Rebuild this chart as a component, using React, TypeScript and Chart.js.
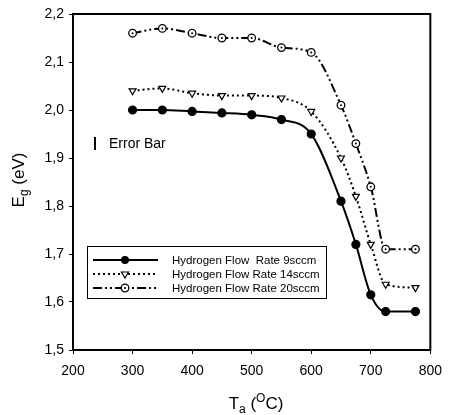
import React, { useEffect, useRef } from "react";
import { Chart, registerables } from "chart.js";

Chart.register(...registerables);

const temperatures = [300, 350, 400, 450, 500, 550, 600, 650, 675, 700, 725, 775];
const flow9 = [2.0, 2.0, 1.997, 1.994, 1.99, 1.98, 1.95, 1.81, 1.72, 1.615, 1.58, 1.58];
const flow14 = [2.04, 2.045, 2.035, 2.03, 2.03, 2.025, 1.997, 1.9, 1.82, 1.72, 1.637, 1.63];
const flow20 = [2.16, 2.17, 2.16, 2.15, 2.15, 2.13, 2.12, 2.01, 1.93, 1.84, 1.71, 1.71];
const seriesLabels = [
  "Hydrogen Flow  Rate 9sccm",
  "Hydrogen Flow Rate 14sccm",
  "Hydrogen Flow Rate 20sccm",
];
const yTicks = [1.5, 1.6, 1.7, 1.8, 1.9, 2.0, 2.1, 2.2];
const xTicks = [200, 300, 400, 500, 600, 700, 800];

const FONT = "'Liberation Sans', Arial, sans-serif";

const dashes = [[], [2, 3], [9, 3, 2, 3, 2, 3]];

function drawMarker(ctx: CanvasRenderingContext2D, i: number, x: number, y: number) {
  ctx.save();
  ctx.setLineDash([]);
  ctx.strokeStyle = "#000";
  if (i === 0) {
    ctx.beginPath();
    ctx.arc(x, y, 4, 0, Math.PI * 2);
    ctx.fillStyle = "#000";
    ctx.fill();
  } else if (i === 1) {
    const r = 4;
    ctx.beginPath();
    ctx.moveTo(x - r * 0.87, y - r * 0.5);
    ctx.lineTo(x + r * 0.87, y - r * 0.5);
    ctx.lineTo(x, y + r);
    ctx.closePath();
    ctx.fillStyle = "#fff";
    ctx.fill();
    ctx.lineWidth = 1.2;
    ctx.stroke();
  } else {
    ctx.beginPath();
    ctx.arc(x, y, 3.8, 0, Math.PI * 2);
    ctx.fillStyle = "#fff";
    ctx.fill();
    ctx.lineWidth = 1.3;
    ctx.stroke();
    ctx.beginPath();
    ctx.arc(x, y, 1, 0, Math.PI * 2);
    ctx.fillStyle = "#000";
    ctx.fill();
  }
  ctx.restore();
}

export default function App() {
  const ref = useRef<HTMLCanvasElement>(null);
  useEffect(() => {
    document.body.style.margin = "0";
    const mk = (arr: number[]) => temperatures.map((t, i) => ({ x: t, y: arr[i] }));

    const decor = {
      id: "decor",
      afterDatasetsDraw(chart: any) {
        const { ctx, chartArea: a } = chart;
        ctx.save();
        // centre dots of the 20 sccm markers
        const meta = chart.getDatasetMeta(2);
        ctx.fillStyle = "#000";
        for (const el of meta.data) {
          ctx.beginPath();
          ctx.arc(el.x, el.y, 1, 0, Math.PI * 2);
          ctx.fill();
        }

        ctx.strokeStyle = "#000";
        ctx.lineWidth = 2;
        ctx.setLineDash([]);
        ctx.strokeRect(a.left, a.top, a.right - a.left, a.bottom - a.top);

        ctx.lineWidth = 2;
        ctx.beginPath();
        ctx.moveTo(95, 137);
        ctx.lineTo(95, 150);
        ctx.stroke();
        ctx.fillStyle = "#000";
        ctx.font = `14px ${FONT}`;
        ctx.textBaseline = "middle";
        ctx.textAlign = "left";
        ctx.fillText("Error Bar", 109, 144);

        const bx = 87, by = 246, bw = 239, bh = 52;
        ctx.fillStyle = "#fff";
        ctx.fillRect(bx, by, bw, bh);
        ctx.lineWidth = 1;
        ctx.strokeStyle = "#000";
        ctx.strokeRect(bx + 0.5, by + 0.5, bw, bh);
        ctx.font = `11.5px ${FONT}`;
        for (let i = 0; i < 3; i++) {
          const y = 260 + i * 14;
          ctx.beginPath();
          ctx.setLineDash(dashes[i]);
          ctx.lineWidth = 2;
          ctx.moveTo(93, y);
          ctx.lineTo(158, y);
          ctx.stroke();
          drawMarker(ctx, i, 125, y);
          ctx.fillStyle = "#000";
          ctx.fillText(seriesLabels[i], 172, y + 1);
        }

        ctx.setLineDash([]);
        ctx.textBaseline = "alphabetic";
        const big = `17px ${FONT}`, small = `12px ${FONT}`;
        const parts = [
          { t: "T", f: big, dy: 0 },
          { t: "a", f: small, dy: 4 },
          { t: " (", f: big, dy: 0 },
          { t: "O", f: small, dy: -7 },
          { t: "C)", f: big, dy: 0 },
        ];
        let w = 0;
        for (const p of parts) { ctx.font = p.f; w += ctx.measureText(p.t).width; }
        let x = 256 - w / 2;
        for (const p of parts) {
          ctx.font = p.f;
          ctx.fillText(p.t, x, 409 + p.dy);
          x += ctx.measureText(p.t).width;
        }

        ctx.translate(24, 180);
        ctx.rotate(-Math.PI / 2);
        const yp = [
          { t: "E", f: big, dy: 0 },
          { t: "g", f: small, dy: 4 },
          { t: " (eV)", f: big, dy: 0 },
        ];
        w = 0;
        for (const p of yp) { ctx.font = p.f; w += ctx.measureText(p.t).width; }
        x = -w / 2;
        for (const p of yp) {
          ctx.font = p.f;
          ctx.fillText(p.t, x, p.dy);
          x += ctx.measureText(p.t).width;
        }
        ctx.restore();
      },
    };

    const base = {
      borderColor: "#000",
      borderWidth: 2,
      cubicInterpolationMode: "monotone" as const,
      pointBorderColor: "#000",
      pointBorderWidth: 1.2,
    };

    const chart = new Chart(ref.current!, {
      type: "line",
      data: {
        datasets: [
          { ...base, label: seriesLabels[0], data: mk(flow9), pointStyle: "circle", pointRadius: 4, pointBackgroundColor: "#000", borderDash: dashes[0] },
          { ...base, label: seriesLabels[1], data: mk(flow14), pointStyle: "triangle", rotation: 180, pointRadius: 4, pointBackgroundColor: "#fff", borderDash: dashes[1] },
          { ...base, label: seriesLabels[2], data: mk(flow20), pointStyle: "circle", pointRadius: 3.8, pointBorderWidth: 1.3, pointBackgroundColor: "#fff", borderDash: dashes[2] },
        ] as any,
      },
      options: {
        responsive: false,
        animation: false,
        layout: { padding: { left: 0, top: 14, right: 12, bottom: 0 } },
        plugins: { legend: { display: false }, tooltip: { enabled: false } },
        scales: {
          x: {
            type: "linear",
            min: 200,
            max: 800,
            afterBuildTicks: (s: any) => { s.ticks = xTicks.map((v) => ({ value: v })); },
            afterFit: (s: any) => { s.height = 65; },
            grid: { display: true, drawOnChartArea: false, tickLength: 4, color: "#000", lineWidth: 1 },
            border: { display: false },
            ticks: { color: "#000", font: { family: FONT, size: 14 }, padding: 9, maxRotation: 0 },
          },
          y: {
            min: 1.5,
            max: 2.2,
            afterBuildTicks: (s: any) => { s.ticks = yTicks.map((v) => ({ value: v })); },
            afterFit: (s: any) => { s.width = 73; },
            grid: { display: true, drawOnChartArea: false, tickLength: 4, color: "#000", lineWidth: 1 },
            border: { display: false },
            ticks: {
              color: "#000",
              font: { family: FONT, size: 14 },
              padding: 5,
              callback: (v: any) => Number(v).toFixed(1).replace(".", ","),
            },
          },
        },
      },
      plugins: [decor],
    });
    return () => chart.destroy();
  }, []);
  return (
    <div style={{ position: "absolute", left: 0, top: 0, width: 451, height: 415, background: "#fff" }}>
      <canvas ref={ref} width={451} height={415} />
    </div>
  );
}
